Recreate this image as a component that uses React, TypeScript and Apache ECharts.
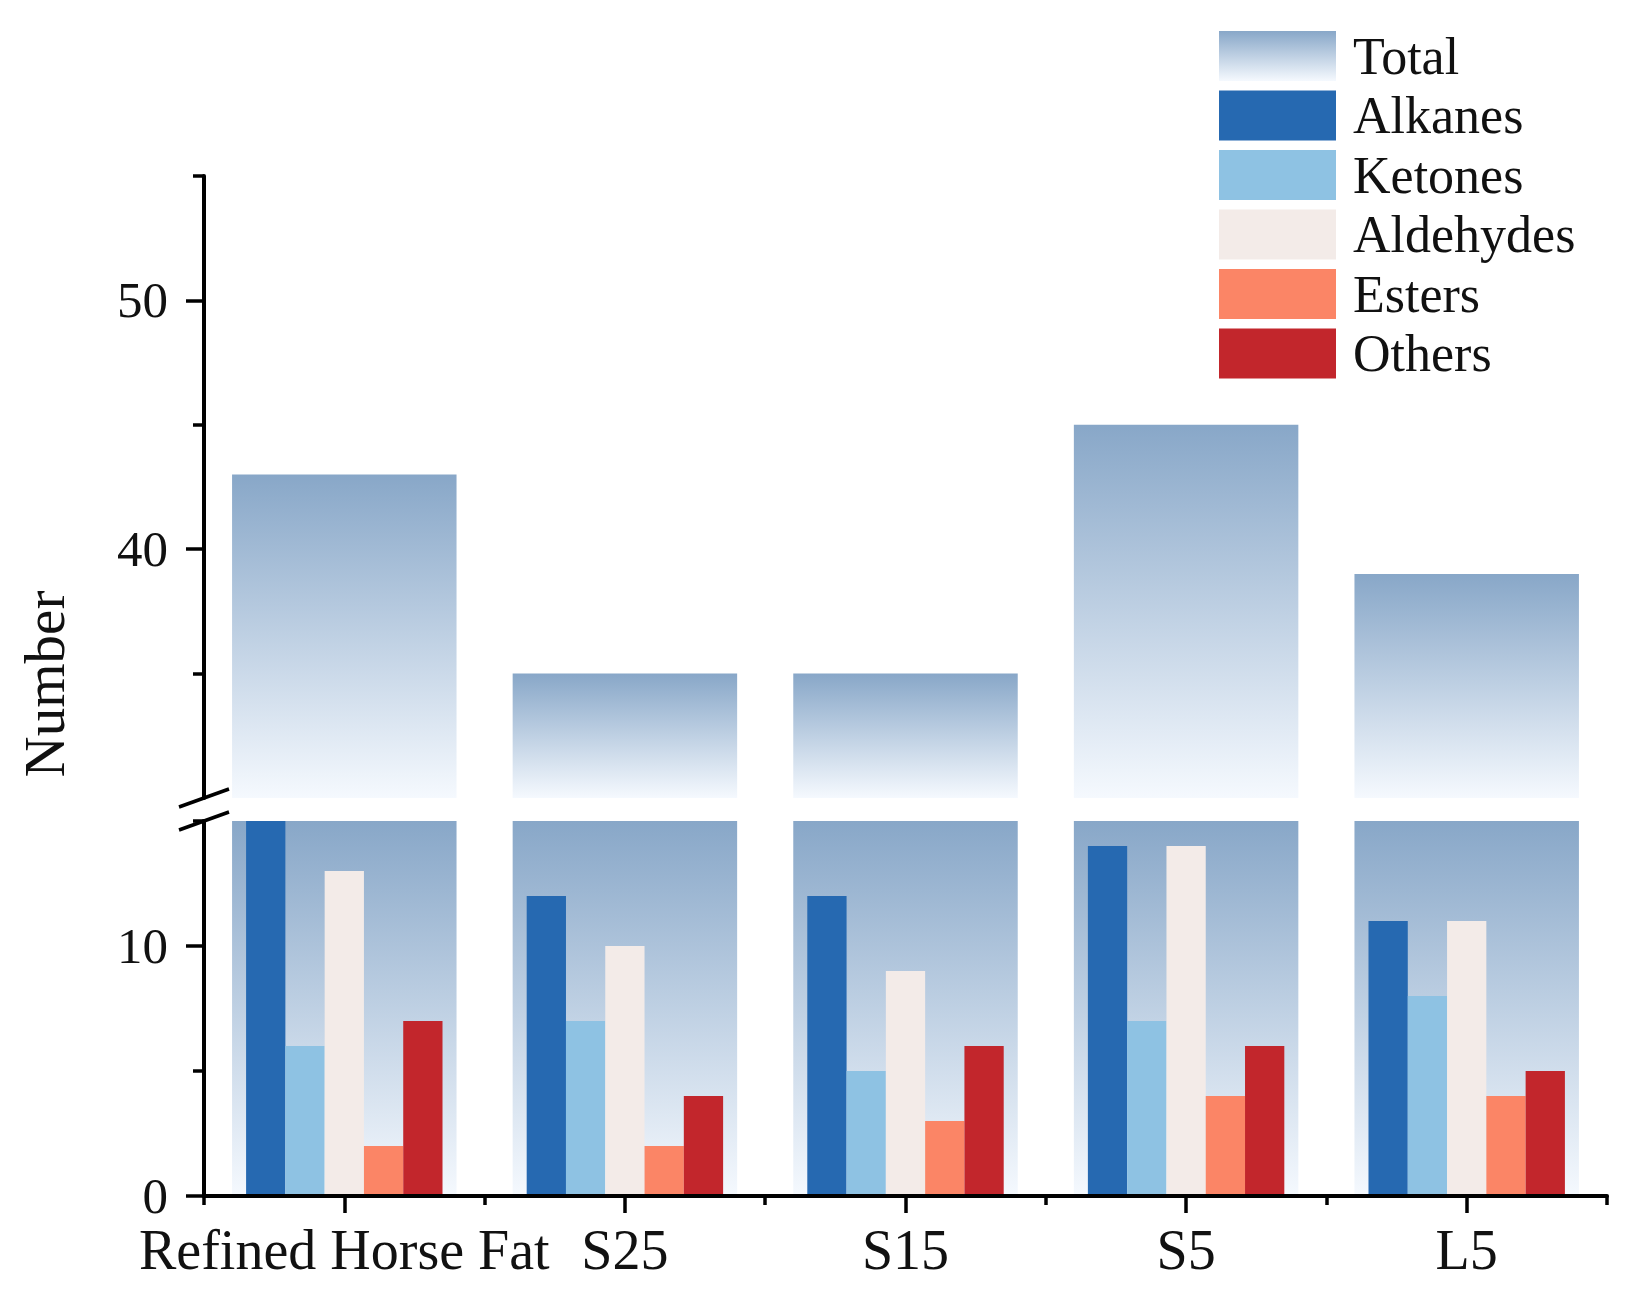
import React, { useEffect, useRef } from "react";
import * as echarts from "echarts";

const categories = ["Refined Horse Fat", "S25", "S15", "S5", "L5"];
const totals = [43, 35, 35, 45, 39];
const alkanes = [15, 12, 12, 14, 11];
const ketones = [6, 7, 5, 7, 8];
const aldehydes = [13, 10, 9, 14, 11];
const esters = [2, 2, 3, 4, 4];
const others = [7, 4, 6, 6, 5];
const groupNames = ["Alkanes", "Ketones", "Aldehydes", "Esters", "Others"];
const groupValues = [alkanes, ketones, aldehydes, esters, others];
const groupColors = ["#2669b1", "#8ec2e3", "#f3ebe8", "#fb8566", "#c2262c"];

const upperRange = [30, 55];
const lowerRange = [0, 15];
const upperMajorTicks = [40, 50];
const upperMinorTicks = [35, 45, 55];
const lowerMajorTicks = [0, 10];
const lowerMinorTicks = [5, 15];

const FONT = "'Liberation Serif', 'Times New Roman', serif";

export default function App() {
  const ref = useRef<HTMLDivElement>(null);

  useEffect(() => {
    document.body.style.margin = "0";
    if (!ref.current) return;
    const chart = echarts.init(ref.current, null, { renderer: "svg" });

    const totalGradient = () =>
      new echarts.graphic.LinearGradient(0, 0, 0, 1, [
        { offset: 0, color: "#88a7c8" },
        { offset: 1, color: "#f5f9fe" },
      ]);

    const axisLineStyle = { color: "#000", width: 4 };
    const tickStyle = { color: "#000", width: 3.5 };

    const majorYAxis = (gridIndex: number, range: number[], ticks: number[]) => ({
      type: "value",
      gridIndex,
      position: "left",
      min: range[0],
      max: range[1],
      z: 10,
      axisLine: { show: true, lineStyle: axisLineStyle },
      axisTick: { show: true, length: 18, lineStyle: tickStyle, customValues: ticks },
      axisLabel: {
        show: true,
        customValues: ticks,
        fontSize: 51,
        fontFamily: FONT,
        color: "#111",
        margin: 36,
      },
      splitLine: { show: false },
    });
    const minorYAxis = (gridIndex: number, range: number[], ticks: number[]) => ({
      type: "value",
      gridIndex,
      position: "left",
      min: range[0],
      max: range[1],
      z: 10,
      axisLine: { show: false },
      axisTick: { show: true, length: 11, lineStyle: tickStyle, customValues: ticks },
      axisLabel: { show: false },
      splitLine: { show: false },
    });

    const option: any = {
      animation: false,
      backgroundColor: "#fff",
      grid: [
        { left: 204, right: 34, top: 176, height: 622 },
        { left: 204, right: 34, top: 821, height: 375 },
      ],
      legend: {
        data: ["Total", ...groupNames],
        orient: "vertical",
        left: 1219,
        top: 30,
        padding: 0,
        itemWidth: 117,
        itemHeight: 50,
        itemGap: 7.5,
        icon: "rect",
        textStyle: {
          fontSize: 52,
          lineHeight: 48,
          fontFamily: FONT,
          color: "#111",
          padding: [0, 0, 0, 12],
        },
      },
      xAxis: [
        {
          type: "category",
          gridIndex: 0,
          data: categories,
          show: false,
        },
        {
          type: "category",
          gridIndex: 1,
          position: "bottom",
          data: categories,
          z: 10,
          axisLine: { show: true, lineStyle: axisLineStyle },
          axisTick: { show: true, alignWithLabel: true, length: 17, lineStyle: tickStyle },
          axisLabel: {
            fontSize: 56,
            fontFamily: FONT,
            color: "#111",
            margin: 26,
            interval: 0,
          },
        },
        {
          type: "category",
          gridIndex: 1,
          position: "bottom",
          data: categories,
          z: 10,
          axisLine: { show: false },
          axisTick: { show: true, length: 9, lineStyle: tickStyle },
          axisLabel: { show: false },
        },
      ],
      yAxis: [
        majorYAxis(0, upperRange, upperMajorTicks),
        minorYAxis(0, upperRange, upperMinorTicks),
        majorYAxis(1, lowerRange, lowerMajorTicks),
        minorYAxis(1, lowerRange, lowerMinorTicks),
      ],
      series: [
        {
          name: "base",
          type: "bar",
          xAxisIndex: 0,
          yAxisIndex: 0,
          stack: "upper",
          barWidth: "80%",
          silent: true,
          itemStyle: { color: "rgba(0,0,0,0)" },
          data: totals.map(() => upperRange[0]),
        },
        {
          name: "Total",
          type: "bar",
          xAxisIndex: 0,
          yAxisIndex: 0,
          stack: "upper",
          barWidth: "80%",
          itemStyle: { color: totalGradient() },
          data: totals.map((v) => v - upperRange[0]),
        },
        {
          name: "Total",
          type: "bar",
          xAxisIndex: 2,
          yAxisIndex: 2,
          barWidth: "80%",
          z: 1,
          itemStyle: { color: totalGradient() },
          data: totals.map((v) => Math.min(v, lowerRange[1])),
        },
        ...groupNames.map((name, i) => ({
          name,
          type: "bar",
          xAxisIndex: 1,
          yAxisIndex: 2,
          barGap: "0%",
          barCategoryGap: "30%",
          z: 3,
          itemStyle: { color: groupColors[i] },
          data: groupValues[i],
        })),
      ],
      graphic: [
        {
          type: "line",
          shape: { x1: 179, y1: 807, x2: 229, y2: 789 },
          style: { stroke: "#000", lineWidth: 3.5 },
          z: 100,
        },
        {
          type: "line",
          shape: { x1: 179, y1: 830, x2: 229, y2: 812 },
          style: { stroke: "#000", lineWidth: 3.5 },
          z: 100,
        },
        {
          type: "text",
          x: 44,
          y: 684,
          rotation: Math.PI / 2,
          style: {
            text: "Number",
            fontSize: 57,
            fontFamily: FONT,
            fill: "#111",
            textAlign: "center",
            textVerticalAlign: "middle",
          },
        },
      ],
    };

    chart.setOption(option);
    return () => chart.dispose();
  }, []);

  return <div ref={ref} style={{ width: 1641, height: 1299 }} />;
}
